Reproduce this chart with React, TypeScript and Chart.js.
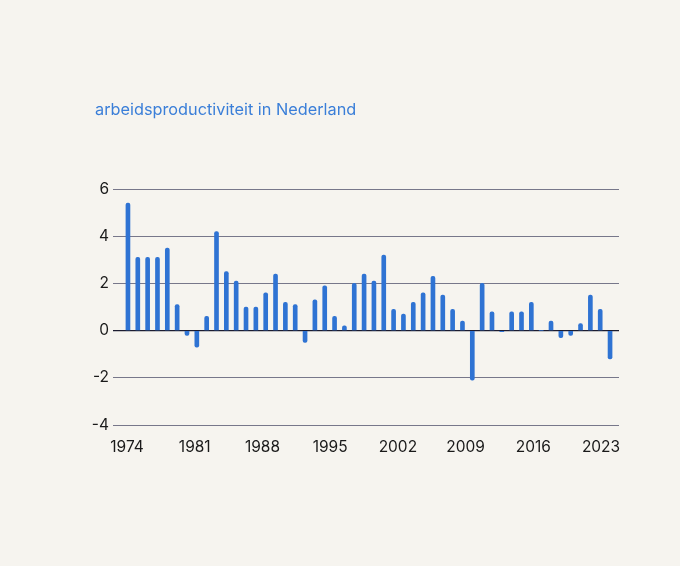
import { useEffect, useRef } from "react";
import Chart from "chart.js/auto";

const years = [
  1974, 1975, 1976, 1977, 1978, 1979, 1980, 1981, 1982, 1983,
  1984, 1985, 1986, 1987, 1988, 1989, 1990, 1991, 1992, 1993,
  1994, 1995, 1996, 1997, 1998, 1999, 2000, 2001, 2002, 2003,
  2004, 2005, 2006, 2007, 2008, 2009, 2010, 2011, 2012, 2013,
  2014, 2015, 2016, 2017, 2018, 2019, 2020, 2021, 2022, 2023,
];
const growth = [
  5.4, 3.1, 3.1, 3.1, 3.5, 1.1, -0.2, -0.7, 0.6, 4.2,
  2.5, 2.1, 1.0, 1.0, 1.6, 2.4, 1.2, 1.1, -0.5, 1.3,
  1.9, 0.6, 0.2, 2.0, 2.4, 2.1, 3.2, 0.9, 0.7, 1.2,
  1.6, 2.3, 1.5, 0.9, 0.4, -2.1, 2.0, 0.8, -0.05, 0.8,
  0.8, 1.2, 0, 0.4, -0.3, -0.2, 0.3, 1.5, 0.9, -1.2,
];
const yTicks = [-4, -2, 0, 2, 4, 6];
const title = "arbeidsproductiviteit in Nederland";

const FONT = "Inter, 'Noto Sans', sans-serif";

export default function App() {
  const ref = useRef<HTMLCanvasElement | null>(null);

  useEffect(() => {
    if (!ref.current) return;
    const chart = new Chart(ref.current, {
      type: "bar",
      data: {
        datasets: [
          {
            data: years.map((y, i) => ({ x: y, y: growth[i] })),
            xAxisID: "xBars",
            backgroundColor: "#2f73d3",
            barThickness: 4,
            borderRadius: 2,
          },
        ],
      },
      options: {
        animation: false,
        responsive: false,
        layout: { padding: { left: 89, right: 61, top: 189, bottom: 101 } },
        plugins: { legend: { display: false }, tooltip: { enabled: false } },
        scales: {
          xBars: {
            type: "linear",
            axis: "x",
            display: false,
            offset: false,
            min: 1972.48,
            max: 2023.91,
          },
          // year labels sit slightly tighter than the bars in the original
          x: {
            type: "linear",
            offset: false,
            min: 1972.55,
            max: 2024.86,
            grid: { display: false },
            border: { display: false },
            ticks: {
              stepSize: 7,
              includeBounds: false,
              padding: 5,
              color: "#1a1a1a",
              font: { family: FONT, size: 15.5 },
              callback: (v) => String(v),
            },
            afterFit: (s) => {
              s.height = 40;
            },
          },
          y: {
            min: yTicks[0],
            max: yTicks[yTicks.length - 1],
            border: { display: false },
            grid: {
              drawTicks: false,
              color: (c) => (c.tick && c.tick.value === 0 ? "#1c1c30" : "#77778a"),
              lineWidth: (c) => (c.tick && c.tick.value === 0 ? 1.3 : 1),
            },
            ticks: {
              stepSize: 2,
              padding: 4,
              color: "#1a1a1a",
              font: { family: FONT, size: 15.5 },
            },
            afterFit: (s) => {
              s.width = 24;
            },
          },
        },
      },
    });
    return () => chart.destroy();
  }, []);

  return (
    <div
      style={{
        position: "fixed",
        left: 0,
        top: 0,
        width: 680,
        height: 566,
        background: "#f6f4ef",
      }}
    >
      <div
        style={{
          position: "absolute",
          left: 95,
          top: 99,
          fontFamily: FONT,
          fontSize: 16.3,
          color: "#3a7ed8",
          whiteSpace: "nowrap",
        }}
      >
        {title}
      </div>
      <canvas ref={ref} width={680} height={566} style={{ display: "block" }} />
    </div>
  );
}
